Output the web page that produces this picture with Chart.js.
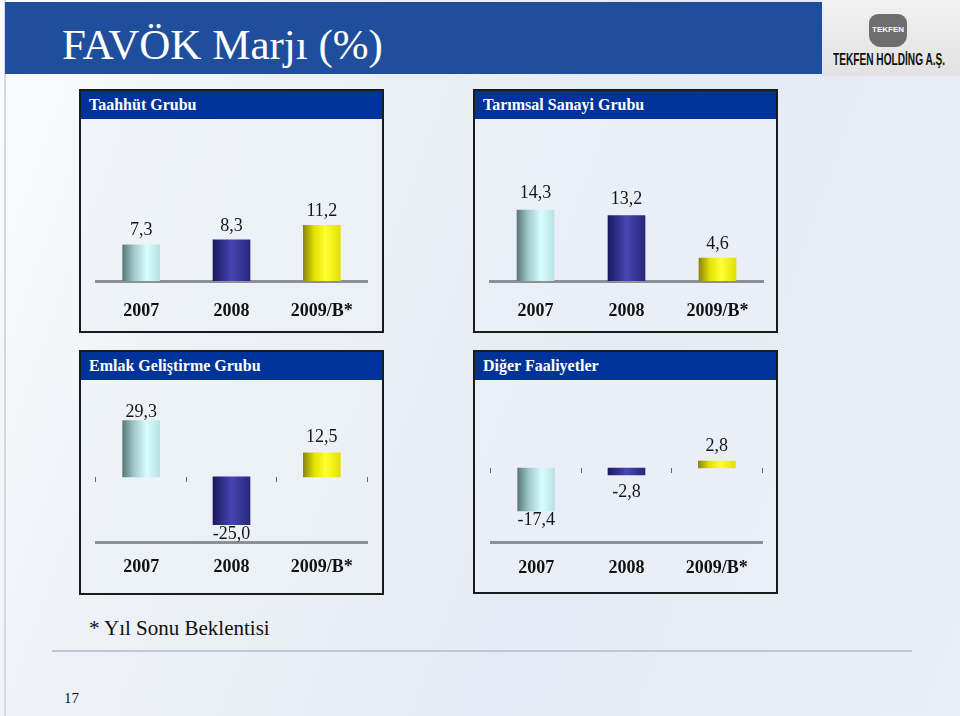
<!DOCTYPE html>
<html lang="tr">
<head>
    <meta charset="UTF-8">
    <title>FAVÖK Marjı (%)</title>
    <script src="https://cdn.jsdelivr.net/npm/chart.js@4/dist/chart.umd.min.js"></script>
    <style>
        * { margin: 0; padding: 0; box-sizing: border-box; }

        body {
            width: 960px;
            height: 716px;
            overflow: hidden;
            position: relative;
            font-family: 'Liberation Serif', 'Times New Roman', serif;
            background: linear-gradient(110deg, #fbfcfd 0%, #eef2f7 25%, #e5ebf4 60%, #e9eef6 100%);
        }

        .frame {
            position: absolute;
            left: 4px; top: 0; width: 2px; height: 716px;
            background: #d4d8de;
        }

        .band {
            position: absolute;
            left: 5px; top: 2px;
            width: 817px; height: 72px;
            background: #1f4f9c;
        }

        .title {
            position: absolute;
            left: 62px; top: 23px;
            color: #fff;
            font-size: 43px;
            line-height: 1;
            white-space: nowrap;
        }

        .logo {
            position: absolute;
            left: 822px; top: 0;
            width: 138px; height: 76px;
            background: linear-gradient(180deg, #f1f1f1, #e2e2e2);
        }

        .emblem {
            position: absolute;
            left: 47px; top: 14px;
            width: 38px; height: 33px;
            border-radius: 9px 9px 12px 12px;
            background: #6e6e6e;
        }

        .emblem span {
            position: absolute;
            left: 0; top: 11px; width: 38px;
            text-align: center;
            color: #fff;
            font: bold 8px 'Liberation Sans', sans-serif;
        }

        .logo-text {
            position: absolute;
            left: 11px; top: 50px;
            display: inline-block;
            font: bold 17px 'Liberation Sans', sans-serif;
            color: #111;
            white-space: nowrap;
            transform-origin: 0 0;
        }

        .panel {
            position: absolute;
            width: 305px;
            border: 2px solid #1b1b1b;
            background: rgba(236, 241, 248, 0.6);
        }

        .panel .head {
            height: 28px;
            background: #003399;
            color: #fff;
            font-weight: bold;
            font-size: 16px;
            line-height: 28px;
            padding-left: 8px;
        }

        canvas { position: absolute; }

        .note {
            position: absolute;
            left: 89px; top: 616px;
            font-size: 21px;
            color: #111;
        }

        .rule {
            position: absolute;
            left: 52px; top: 650px;
            width: 860px; height: 2px;
            background: #bcc7d6;
        }

        .page {
            position: absolute;
            left: 64px; top: 690px;
            font-size: 15px;
            color: #111;
        }
    </style>
</head>
<body>
    <div class="frame"></div>
    <div class="band"></div>
    <div class="title">FAVÖK Marjı (%)</div>
    <div class="logo">
        <div class="emblem"><span>TEKFEN</span></div>
        <div class="logo-text" id="logoText">TEKFEN HOLDİNG A.Ş.</div>
    </div>

    <div class="panel" style="left:79px; top:89px; height:244px;"><div class="head">Taahhüt Grubu</div></div>
    <div class="panel" style="left:473px; top:89px; height:244px;"><div class="head">Tarımsal Sanayi Grubu</div></div>
    <div class="panel" style="left:79px; top:350px; height:245px;"><div class="head">Emlak Geliştirme Grubu</div></div>
    <div class="panel" style="left:473px; top:350px; height:244px;"><div class="head">Diğer Faaliyetler</div></div>

    <canvas id="taahhutChart" width="301" height="211" style="left:81px; top:120px;"></canvas>
    <canvas id="tarimsalChart" width="301" height="211" style="left:475px; top:120px;"></canvas>
    <canvas id="emlakChart" width="301" height="214" style="left:81px; top:380px;"></canvas>
    <canvas id="digerChart" width="301" height="213" style="left:475px; top:380px;"></canvas>

    <div class="note">* Yıl Sonu Beklentisi</div>
    <div class="rule"></div>
    <div class="page">17</div>

    <script>
        // Data
        const years = ['2007', '2008', '2009/B*'];
        const taahhutValues = [7.3, 8.3, 11.2];
        const tarimsalValues = [14.3, 13.2, 4.6];
        const emlakValues = [29.3, -25.0, 12.5];
        const digerValues = [-17.4, -2.8, 2.8];

        // squeeze the logo caption into its box
        const logoText = document.getElementById('logoText');
        logoText.style.transform = 'scaleX(' + (112 / logoText.offsetWidth) + ')';

        // cylinder-like shading, one per year
        const barStops = [
            [[0, '#5a7879'], [0.3, '#9ec8ca'], [0.65, '#d9fdfd'], [1, '#b8e2e4']],
            [[0, '#1a1a60'], [0.5, '#4646b2'], [1, '#27277c']],
            [[0, '#8a8612'], [0.3, '#e4e200'], [0.6, '#ffff33'], [1, '#e2e000']]
        ];
        const BAR_W = 37;

        function barFill(ctx) {
            const chart = ctx.chart;
            const stops = barStops[ctx.dataIndex % barStops.length];
            const xScale = chart.scales.x;
            if (!xScale || !chart.chartArea) return stops[1][1];
            const cx = xScale.getPixelForValue(ctx.dataIndex);
            const g = chart.ctx.createLinearGradient(cx - BAR_W / 2, 0, cx + BAR_W / 2, 0);
            stops.forEach(s => g.addColorStop(s[0], s[1]));
            return g;
        }

        // value labels above / below each bar
        const barValues = {
            id: 'barValues',
            afterDatasetsDraw(chart, args, opts) {
                const ctx = chart.ctx;
                const meta = chart.getDatasetMeta(0);
                const data = chart.data.datasets[0].data;
                ctx.save();
                ctx.font = '18px "Liberation Serif"';
                ctx.fillStyle = '#151515';
                ctx.textAlign = 'center';
                ctx.textBaseline = 'middle';
                meta.data.forEach((bar, i) => {
                    const v = data[i];
                    const gap = opts.gaps[i];
                    const y = v >= 0 ? bar.y - gap : bar.y + gap;
                    ctx.fillText(v.toFixed(1).replace('.', ','), bar.x, y);
                });
                ctx.restore();
            }
        };

        function makeChart(id, values, cfg) {
            const scales = {
                x: {
                    grid: { display: false, drawTicks: false },
                    border: { color: '#8b8f97', width: 3 },
                    ticks: {
                        padding: cfg.labelPad,
                        color: '#111',
                        font: { family: 'Liberation Serif', size: 18, weight: 'bold' }
                    },
                    afterFit: (scale) => { scale.height = cfg.axisH; }
                },
                y: { display: false, min: cfg.min, max: cfg.max }
            };
            if (cfg.zeroTicks) {
                // small marks on the zero line between the years
                scales.x2 = {
                    type: 'category',
                    position: { y: 0 },
                    offset: true,
                    grid: { drawOnChartArea: false, drawTicks: true, tickLength: 5, offset: true, color: '#666', lineWidth: 1 },
                    border: { display: false },
                    ticks: { display: false }
                };
            }
            return new Chart(document.getElementById(id), {
                type: 'bar',
                data: {
                    labels: years,
                    datasets: [{
                        data: values,
                        backgroundColor: barFill,
                        borderWidth: 0,
                        barThickness: BAR_W
                    }]
                },
                options: {
                    responsive: false,
                    animation: false,
                    layout: { padding: { top: cfg.top, left: cfg.left, right: cfg.right, bottom: 0 } },
                    plugins: {
                        legend: { display: false },
                        tooltip: { enabled: false },
                        barValues: { gaps: cfg.gaps }
                    },
                    scales: scales
                },
                plugins: [barValues]
            });
        }

        makeChart('taahhutChart', taahhutValues, {
            min: 0, max: 28, top: 22, left: 15, right: 15, axisH: 50, labelPad: 20, gaps: [14, 14, 14]
        });
        makeChart('tarimsalChart', tarimsalValues, {
            min: 0, max: 28, top: 22, left: 15, right: 13, axisH: 50, labelPad: 20, gaps: [17, 16, 14]
        });
        makeChart('emlakChart', emlakValues, {
            min: -34, max: 38, top: 24, left: 15, right: 15, axisH: 52, labelPad: 15, gaps: [8, 10, 16], zeroTicks: true
        });
        makeChart('digerChart', digerValues, {
            min: -30, max: 28, top: 19, left: 16, right: 14, axisH: 51, labelPad: 16, gaps: [9, 17, 15], zeroTicks: true
        });
    </script>
</body>
</html>
